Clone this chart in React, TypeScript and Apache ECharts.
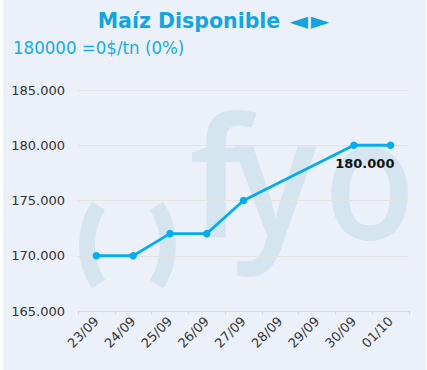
import React, { useEffect, useRef } from "react";
import * as echarts from "echarts";

const categories = ["23/09", "24/09", "25/09", "26/09", "27/09", "28/09", "29/09", "30/09", "01/10"];
const prices: (number | null)[] = [170000, 170000, 172000, 172000, 175000, null, null, 180000, 180000];
const labelledIndex = 7;
const yMin = 165000;
const yMax = 185000;
const yStep = 5000;
const titleMain = "Maíz Disponible";
const titleLeft = "◄";
const titleRight = "►";
const subtitleText = "180000 =0$/tn (0%)";

const BG = "#ECF1F9";
const WM = "#D5E5F0";
const LINE = "#05AEEA";
const TITLE = "#14A4DE";

function fmt(v: number) {
  return String(Math.round(v)).replace(/\B(?=(\d{3})+(?!\d))/g, ".");
}

const wmFont = "600 166px 'Open Sans'";

export default function App() {
  const ref = useRef<HTMLDivElement>(null);
  useEffect(() => {
    document.body.style.margin = "0";
    const chart = echarts.init(ref.current!, null, { renderer: "svg" });
    const data = prices.map((v, i) =>
      i === labelledIndex
        ? {
            value: v,
            label: {
              show: true,
              position: "bottom",
              offset: [11, 3],
              formatter: (p: any) => fmt(p.value),
              fontFamily: "DejaVu Sans",
              fontWeight: "bold",
              fontSize: 13,
              color: "#111",
            },
          }
        : v
    );
    chart.setOption({
      animation: false,
      backgroundColor: "#ffffff",
      graphic: [
        { type: "rect", z: -100, shape: { x: 3, y: 0, width: 423, height: 370 }, style: { fill: BG }, silent: true },
        { type: "arc", z: -50, shape: { cx: 160, cy: 245, r: 73, startAngle: (147.5 * Math.PI) / 180, endAngle: (212.5 * Math.PI) / 180, clockwise: true }, style: { stroke: WM, lineWidth: 16, fill: null, lineCap: "butt" }, silent: true },
        { type: "arc", z: -50, shape: { cx: 95, cy: 245, r: 73, startAngle: (-32.5 * Math.PI) / 180, endAngle: (32.5 * Math.PI) / 180, clockwise: true }, style: { stroke: WM, lineWidth: 16, fill: null, lineCap: "butt" }, silent: true },
        { type: "text", z: -50, x: 189, y: 174, style: { text: "f", font: wmFont, fill: WM, align: "left", verticalAlign: "middle" }, silent: true },
        { type: "text", z: -50, x: 234, y: 173, scaleX: 0.93, style: { text: "y", font: wmFont, fill: WM, align: "left", verticalAlign: "middle" }, silent: true },
        { type: "text", z: -50, x: 324, y: 174, scaleX: 0.9, style: { text: "o", font: wmFont, fill: WM, align: "left", verticalAlign: "middle" }, silent: true },
        {
          type: "text",
          x: 213.5,
          y: 21,
          style: {
            text: `{a|${titleMain} }{b|${titleLeft}}{c|${titleRight}}`,
            align: "center",
            verticalAlign: "middle",
            rich: {
              a: { fontFamily: "DejaVu Sans", fontWeight: "bold", fontSize: 20.5, fill: TITLE, color: TITLE },
              b: { fontFamily: "DejaVu Sans", fontWeight: "bold", fontSize: 24, fill: TITLE, color: TITLE, padding: [0, 3, 0, 2] },
              c: { fontFamily: "DejaVu Sans", fontWeight: "bold", fontSize: 24, fill: TITLE, color: TITLE },
            },
          },
        },
        { type: "text", x: 13, y: 47, style: { text: subtitleText, font: "18.5px 'DejaVu Sans Condensed', 'DejaVu Sans'", fill: "#1AAAE4", align: "left", verticalAlign: "middle" } },
      ],
      grid: { left: 78, right: 18, top: 90, bottom: 59, containLabel: false },
      xAxis: {
        type: "category",
        data: categories,
        boundaryGap: true,
        axisLine: { lineStyle: { color: "#DADADA" } },
        axisTick: { show: true, length: 4, lineStyle: { color: "#DADADA" } },
        axisLabel: { interval: 0, rotate: 45, margin: 8, fontSize: 13, fontFamily: "DejaVu Sans", color: "#333" },
        splitLine: { show: false },
      },
      yAxis: {
        type: "value",
        min: yMin,
        max: yMax,
        interval: yStep,
        axisLine: { show: false },
        axisTick: { show: false },
        splitLine: { lineStyle: { color: "#E3E3E3" } },
        axisLabel: { formatter: (v: number) => fmt(v), fontSize: 13, fontFamily: "DejaVu Sans", color: "#333", margin: 13 },
      },
      series: [
        {
          type: "line",
          data,
          connectNulls: true,
          symbol: "circle",
          symbolSize: 7.5,
          showSymbol: true,
          itemStyle: { color: LINE },
          lineStyle: { color: LINE, width: 2.8 },
          z: 5,
        },
      ],
    });
    return () => chart.dispose();
  }, []);
  return <div ref={ref} style={{ width: 427, height: 370 }} />;
}
